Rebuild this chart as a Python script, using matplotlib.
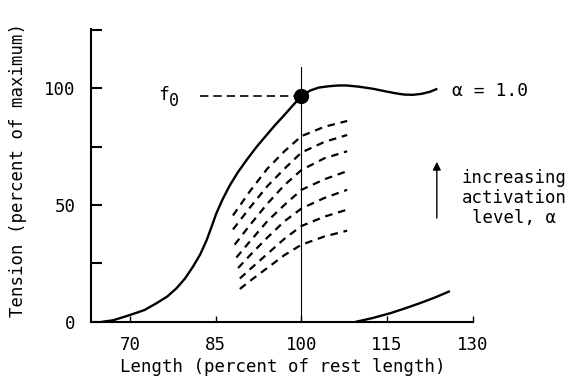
import matplotlib
matplotlib.use("Agg")
import matplotlib.pyplot as plt
import numpy as np

# active force-length curve (alpha = 1.0)
length_active = [65.2, 67.0, 70.0, 72.5, 74.6, 76.5, 78.1, 79.6, 81.0, 82.3, 83.4, 84.3,
                 85.1, 86.2, 87.4, 88.8, 90.4, 92.1, 93.9, 95.4, 96.8, 98.4, 100.0,
                 101.5, 103.0, 104.9, 106.5, 107.9, 110.0, 112.5, 114.5, 116.6, 118.0,
                 119.5, 121.0, 122.5, 123.6]
tension_active = [0.0, 0.6, 2.9, 5.0, 7.9, 10.8, 14.3, 18.5, 23.6, 29.0, 35.0, 41.0,
                  46.5, 52.5, 58.2, 63.8, 69.3, 74.8, 80.0, 84.3, 88.0, 92.4, 96.7,
                  99.0, 100.3, 100.9, 101.2, 101.2, 100.7, 99.8, 98.8, 97.8, 97.3,
                  97.2, 97.6, 98.5, 99.6]

# passive curve
length_passive = [109.6, 112.5, 115.5, 118.0, 120.7, 123.3, 125.8]
tension_passive = [0.0, 1.6, 3.6, 5.6, 7.9, 10.3, 12.9]

# submaximal activation curves (dashed)
sub_lengths = [
    [88.0, 91.0, 94.0, 97.0, 100.0, 104.0, 108.0],
    [88.0, 91.0, 94.0, 97.0, 100.0, 104.0, 108.0],
    [88.3, 91.0, 94.0, 97.0, 100.0, 104.0, 108.0],
    [88.6, 91.0, 94.0, 97.0, 100.0, 104.0, 108.0],
    [88.9, 91.0, 94.0, 97.0, 100.0, 104.0, 108.0],
    [89.2, 91.0, 94.0, 97.0, 100.0, 104.0, 108.0],
    [89.2, 91.0, 94.0, 97.0, 100.0, 104.0, 108.0],
]
sub_tensions = [
    [45.5, 56.0, 65.5, 73.0, 79.5, 83.5, 86.0],
    [39.5, 49.0, 58.0, 65.5, 72.5, 77.0, 80.0],
    [33.0, 41.5, 50.5, 58.5, 65.0, 70.0, 73.0],
    [27.5, 34.5, 43.0, 50.0, 56.5, 61.0, 64.5],
    [23.0, 28.5, 36.0, 43.0, 48.5, 53.0, 56.5],
    [18.5, 22.5, 29.0, 35.5, 41.0, 45.0, 48.0],
    [14.0, 17.5, 23.0, 28.5, 33.0, 36.5, 39.0],
]

f0_length = 100.0
f0_tension = 96.7

x_ticks = [70, 85, 100, 115, 130]
y_ticks = [0, 25, 50, 75, 100, 125]
y_ticklabels = ['0', '', '50', '', '100', '']

plt.rcParams['font.family'] = ['DejaVu Sans Mono', 'DejaVu Sans']

fig = plt.figure(figsize=(5.71, 3.85), dpi=100)
ax = fig.add_axes([0.159, 0.1644, 0.669, 0.7603])

ax.plot(length_active, tension_active, color='black', lw=1.7, solid_joinstyle='round')
ax.plot(length_passive, tension_passive, color='black', lw=1.7)
for xs, ys in zip(sub_lengths, sub_tensions):
    ax.plot(xs, ys, color='black', lw=1.6, linestyle=(0, (3.4, 2.6)))

# reference lines at optimal length
ax.plot([f0_length, f0_length], [0, 109], color='black', lw=0.8)
ax.plot([82.2, f0_length], [f0_tension, f0_tension], color='black', lw=1.2,
        linestyle=(0, (5, 3)))
ax.plot([f0_length], [f0_tension], 'o', color='black', markersize=10)

ax.text(75.0, f0_tension + 0.3, 'f', fontsize=13, ha='left', va='center')
ax.text(76.7, f0_tension - 2.0, '0', fontsize=12, ha='left', va='center')

ax.text(126.3, 98.9, '\u03b1 = 1.0', fontsize=13, ha='left', va='center')

ax.annotate('', xy=(123.7, 68.5), xytext=(123.7, 44.4),
            arrowprops=dict(arrowstyle='-|>', color='black', lw=1.0,
                            mutation_scale=12, shrinkA=0, shrinkB=0),
            annotation_clip=False)
ax.text(137.3, 53.0, 'increasing\nactivation\nlevel, \u03b1', fontsize=12.5,
        ha='center', va='center', multialignment='center', linespacing=1.15)

ax.set_xlim(63.1, 130)
ax.set_ylim(0, 125.4)
ax.set_xticks(x_ticks)
ax.set_yticks(y_ticks)
ax.set_yticklabels(y_ticklabels)

ax.spines['top'].set_visible(False)
ax.spines['right'].set_visible(False)
ax.spines['left'].set_linewidth(1.5)
ax.spines['bottom'].set_linewidth(1.5)
ax.tick_params(axis='y', direction='in', length=8, width=1.5, pad=11, labelsize=12.5)
ax.tick_params(axis='x', direction='in', length=4, width=1.0, pad=10, labelsize=12.5)

ax.set_xlabel('Length (percent of rest length)', fontsize=12.5)
ax.set_ylabel('Tension (percent of maximum)', fontsize=12.5)
ax.xaxis.set_label_coords(0.503, -0.124)
ax.yaxis.set_label_coords(-0.168, 0.518)

fig.savefig('out.png', dpi=100)
